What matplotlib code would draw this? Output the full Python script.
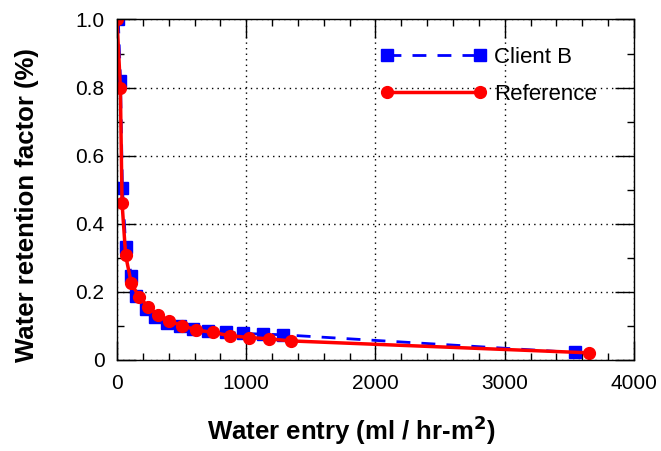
import numpy as np
import matplotlib.pyplot as plt
from matplotlib.ticker import MultipleLocator

plt.rcParams['font.family'] = ['Liberation Sans', 'DejaVu Sans']

# Client B readings
client_x = [10, 27, 42, 68, 112, 150, 228, 293, 384, 487, 590, 704, 847, 975, 1130, 1285, 3542]
client_y = [1.0, 0.82, 0.505, 0.331, 0.248, 0.189, 0.15, 0.125, 0.11, 0.10, 0.091, 0.086, 0.081,
            0.078, 0.076, 0.074, 0.022]

# Reference readings
ref_x = [0, 26, 39, 67, 111, 170, 240, 318, 403, 506, 614, 743, 876, 1025, 1180, 1345, 3653]
ref_y = [1.0, 0.80, 0.462, 0.307, 0.225, 0.186, 0.157, 0.132, 0.114, 0.101, 0.088, 0.081, 0.071,
         0.066, 0.062, 0.056, 0.021]

fig = plt.figure(figsize=(6.61, 4.51), dpi=100)
ax = fig.add_axes([0.177, 0.2018, 0.782, 0.755])

ax.plot(client_x, client_y, color='#0000ff', lw=2, dashes=(5, 4), marker='s',
        markersize=9, label='Client B')
ax.plot(ref_x, ref_y, color='#ff0000', lw=2.5, marker='o', markersize=8.5,
        label='Reference')

ax.set_xlim(0, 4000)
ax.set_ylim(0, 1.0)
ax.xaxis.set_major_locator(MultipleLocator(1000))
ax.xaxis.set_minor_locator(MultipleLocator(200))
ax.yaxis.set_major_locator(MultipleLocator(0.2))
ax.yaxis.set_minor_locator(MultipleLocator(0.1))
ax.set_yticks([0, 0.2, 0.4, 0.6, 0.8, 1.0])
ax.set_yticklabels(['0', '0.2', '0.4', '0.6', '0.8', '1.0'])

ax.tick_params(which='both', direction='in', top=True, right=True, labelsize=15,
               color='black')
ax.tick_params(which='major', length=14, width=1)
ax.tick_params(which='minor', length=5, width=1)
ax.tick_params(axis='x', pad=10)
ax.tick_params(axis='y', pad=9)

ax.grid(True, which='major', linestyle=(0, (1, 3)), color='black', lw=1)
for s in ax.spines.values():
    s.set_linewidth(1)

ax.set_xlabel('Water entry (ml / hr-m$^\\mathbf{2}$)', fontsize=18.5, fontweight='bold',
              labelpad=15)
ax.set_ylabel('Water retention factor (%)', fontsize=18.5, fontweight='bold', labelpad=26)
# labels sit a little off-centre in the original
ax.xaxis.label.set_x(0.453)
ax.yaxis.label.set_y(0.454)

ax.legend(loc='upper left', bbox_to_anchor=(0.47, 0.978), frameon=False, fontsize=16,
          handlelength=4.8, handletextpad=0.35, numpoints=2, labelspacing=0.7)

fig.savefig('out.png', dpi=100)
